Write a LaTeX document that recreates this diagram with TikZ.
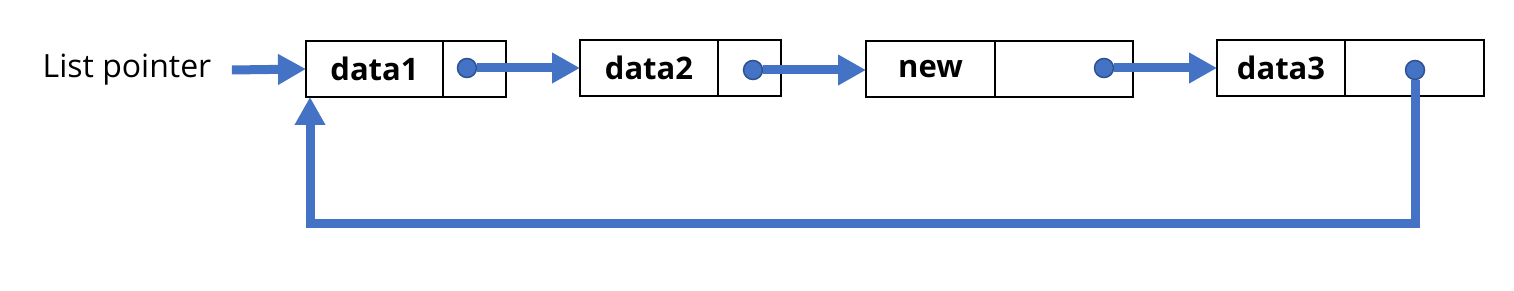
\documentclass[tikz,border=0pt]{standalone}
\usepackage{fontspec}
\setmainfont{Open Sans}
\usetikzlibrary{arrows.meta,positioning}
\definecolor{ptrblue}{RGB}{68,114,196}
\definecolor{ptredge}{RGB}{47,82,143}

\begin{document}
\begin{tikzpicture}[x=1pt, y=-1pt,
  datafield/.style={draw, line width=1.5pt, outer sep=0pt, inner sep=0pt,
    minimum height=56pt, font=\fontsize{31}{36}\selectfont\bfseries},
  ptrdot/.style={circle, fill=ptrblue, draw=ptredge, line width=1.5pt,
    minimum size=19pt, inner sep=0pt},
  link/.style={ptrblue, line width=9pt, -{Triangle[length=28pt,width=29pt]}}]
\useasboundingbox (0,0) rectangle (1514,291);

% head pointer
\node[font=\fontsize{32}{38}\selectfont] (lp) at (127,70) {List pointer};

% the four list nodes: data field + pointer field
\node[datafield, minimum width=137pt] (d1) at (374.5,69) {data1};
\node[datafield, minimum width=63pt, right=0pt of d1] (p1) {};
\node[datafield, minimum width=138pt] (d2) at (649,68) {data2};
\node[datafield, minimum width=63pt, right=0pt of d2] (p2) {};
\node[datafield, minimum width=129pt] (dn) at (930.5,69) {new};
\node[datafield, minimum width=138pt, right=0pt of dn] (pn) {};
\node[datafield, minimum width=128pt] (d3) at (1281,68) {data3};
\node[datafield, minimum width=139pt, right=0pt of d3] (p3) {};

% pointer dots
\node[ptrdot] (c1) at (467,68) {};
\node[ptrdot] (c2) at (753,70) {};
\node[ptrdot] (cn) at (1104,68) {};
\node[ptrdot] (c3) at (1415,70) {};

% links
\draw[link] ([xshift=17pt]lp.east) -- (d1.west);
\draw[link] (c1) -- (c1 -| d2.west);
\draw[link] (c2) -- (c2 -| dn.west);
\draw[link] (cn) -- (cn -| d3.west);

% back link from data3 to data1
\coordinate (turn) at (310,223);
\draw[link] (c3.south) |- (turn) -- (turn |- d1.south);
\end{tikzpicture}
\end{document}
